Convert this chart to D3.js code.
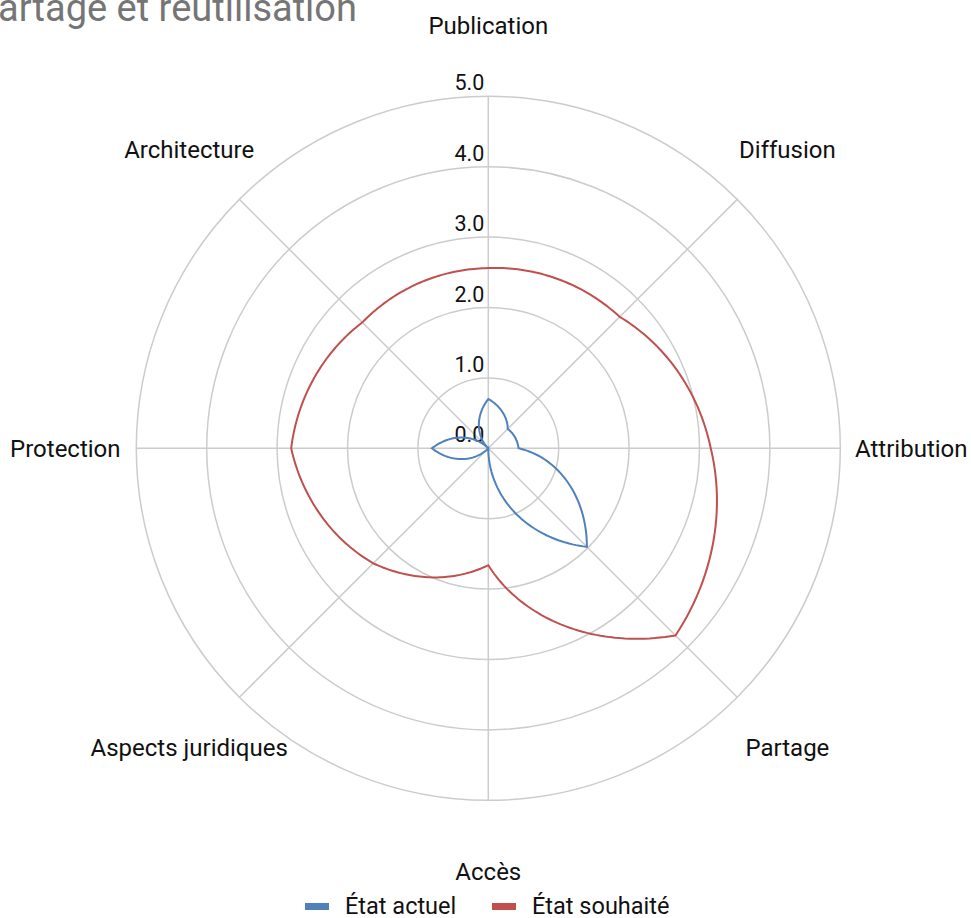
<!DOCTYPE html>
<html>
<head>
<meta charset="utf-8">
<script src="https://cdn.jsdelivr.net/npm/d3@7"></script>
<style>
  html, body { margin: 0; padding: 0; background: #fff; }
  svg { display: block; font-family: Roboto, "Noto Sans", sans-serif; }
</style>
</head>
<body>
<svg id="chart" width="971" height="918"></svg>
<script>
// ---- Data ----
const title = "Partage et réutilisation";
const categories = ["Publication", "Diffusion", "Attribution", "Partage", "Accès", "Aspects juridiques", "Protection", "Architecture"];
const seriesNames = ["État actuel", "État souhaité"];
const etatActuel = [0.70, 0.39, 0.43, 1.98, 0, 0, 0.80, 0];
const etatSouhaite = [2.56, 2.64, 3.16, 3.76, 1.66, 2.31, 2.80, 2.53];
const tickValues = [0, 1, 2, 3, 4, 5];
const tickLabels = ["0.0", "1.0", "2.0", "3.0", "4.0", "5.0"];
const seriesColors = ["#4F81BD", "#C0504D"];

// ---- Layout ----
const svg = d3.select("#chart");
const cx = 488.3, cy = 448.3;
const R = 352;
const r = d3.scaleLinear().domain([0, 5]).range([0, R]);
const angle = d3.scalePoint().domain(categories.concat(["__end"])).range([0, 2 * Math.PI]);

const g = svg.append("g").attr("transform", `translate(${cx},${cy})`);

// Title (clipped at the top-left edge as in the reference)
svg.append("text")
  .attr("x", 357).attr("y", 21)
  .attr("text-anchor", "end")
  .attr("fill", "#757575")
  .attr("font-size", 38)
  .text(title);

// Grid circles
g.selectAll("circle.grid")
  .data(tickValues.filter(v => v > 0))
  .join("circle")
  .attr("class", "grid")
  .attr("r", d => r(d))
  .attr("fill", "none")
  .attr("stroke", "#cccccc")
  .attr("stroke-width", 1.5);

// Spokes
g.selectAll("line.spoke")
  .data(categories)
  .join("line")
  .attr("class", "spoke")
  .attr("x1", 0).attr("y1", 0)
  .attr("x2", d => R * Math.sin(angle(d)))
  .attr("y2", d => -R * Math.cos(angle(d)))
  .attr("stroke", "#cccccc")
  .attr("stroke-width", 1.5);

// Tick labels
g.selectAll("text.tick")
  .data(tickValues)
  .join("text")
  .attr("class", "tick")
  .attr("x", -4)
  .attr("y", d => -r(d) - 6)
  .attr("text-anchor", "end")
  .attr("font-size", 21.5)
  .attr("fill", "#111")
  .text((d, i) => tickLabels[i]);

// Category labels
const labelR = 423;
g.selectAll("text.cat")
  .data(categories)
  .join("text")
  .attr("class", "cat")
  .attr("x", d => labelR * Math.sin(angle(d)))
  .attr("y", d => -labelR * Math.cos(angle(d)))
  .attr("dy", "0.35em")
  .attr("text-anchor", "middle")
  .attr("font-size", 24)
  .attr("fill", "#111")
  .text(d => d);

// Series lines: radius interpolated linearly with angle between consecutive axes (polar segments)
const radial = d3.lineRadial().curve(d3.curveLinearClosed);
function polarPath(values) {
  const n = values.length, steps = 48;
  const pts = [];
  for (let i = 0; i < n; i++) {
    const a0 = angle(categories[i]);
    const a1 = angle(i + 1 < n ? categories[i + 1] : "__end");
    const v0 = values[i], v1 = values[(i + 1) % n];
    for (let s = 0; s < steps; s++) {
      const t = s / steps;
      pts.push([a0 + (a1 - a0) * t, r(v0 + (v1 - v0) * t)]);
    }
  }
  return radial(pts);
}

[etatActuel, etatSouhaite].forEach((vals, i) => {
  g.append("path")
    .attr("d", polarPath(vals))
    .attr("fill", "none")
    .attr("stroke", seriesColors[i])
    .attr("stroke-width", 2)
    .attr("stroke-linejoin", "miter");
});

// Legend
const legendItems = [
  { name: seriesNames[0], color: seriesColors[0], x: 305 },
  { name: seriesNames[1], color: seriesColors[1], x: 492 }
];
const lg = svg.append("g");
lg.selectAll("rect")
  .data(legendItems)
  .join("rect")
  .attr("x", d => d.x).attr("y", 903)
  .attr("width", 24).attr("height", 7)
  .attr("fill", d => d.color);
lg.selectAll("text")
  .data(legendItems)
  .join("text")
  .attr("x", d => d.x + 40).attr("y", 914)
  .attr("font-size", 23.5)
  .attr("fill", "#111")
  .text(d => d.name);
</script>
</body>
</html>
